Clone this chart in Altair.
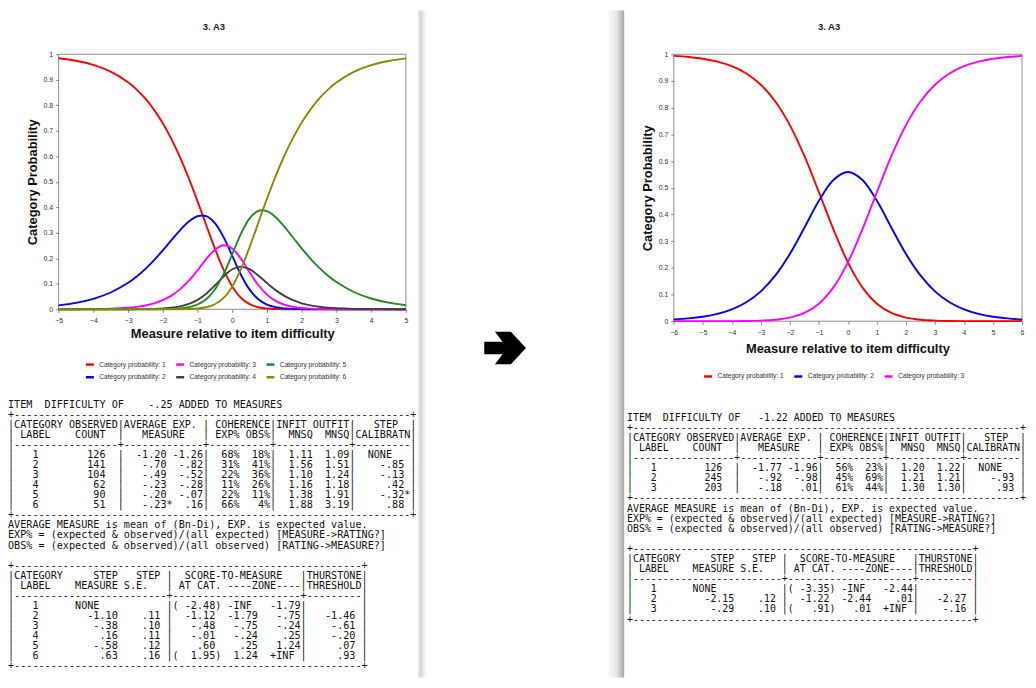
import altair as alt
import pandas as pd

NB = "\u00a0"

# ---------------- curve data ----------------
x_left = [-5, -4.5, -4, -3.5, -3, -2.75, -2.5, -2.25, -2, -1.75, -1.5, -1.25, -1, -0.75,
          -0.5, -0.25, 0, 0.25, 0.5, 0.75, 1, 1.25, 1.5, 1.75, 2, 2.25, 2.5, 2.75, 3,
          3.5, 4, 4.5, 5]
left_p1 = [.9844, .9744, .9581, .9319, .8902, .8614, .8257, .7821, .7296, .6673, .5950, .5132,
           .4238, .3303, .2382, .1553, .0896, .0452, .0200, .0080, .0029, .0010, .0003, .0001,
           0, 0, 0, 0, 0, 0, 0, 0, 0]
left_p2 = [.0155, .0253, .0411, .0658, .1037, .1288, .1586, .1929, .2310, .2713, .3106, .3440,
           .3648, .3650, .3380, .2830, .2096, .1356, .0772, .0395, .0186, .0082, .0035, .0014,
           .0006, .0002, .0001, 0, 0, 0, 0, 0, 0]
left_p3 = [.0001, .0003, .0009, .0023, .0059, .0094, .0148, .0232, .0356, .0537, .0789, .1123,
           .1528, .1964, .2335, .2510, .2386, .1984, .1450, .0952, .0575, .0327, .0178, .0094,
           .0048, .0024, .0012, .0006, .0003, .0001, 0, 0, 0]
left_p4 = [0, 0, 0, 0, .0002, .0004, .0008, .0016, .0032, .0061, .0116, .0211, .0369, .0609,
           .0931, .1284, .1568, .1673, .1571, .1324, .1027, .0751, .0525, .0355, .0235, .0152,
           .0097, .0062, .0039, .0015, .0006, .0002, .0001]
left_p5 = [0, 0, 0, 0, 0, 0, .0001, .0002, .0006, .0015, .0036, .0083, .0187, .0396, .0777,
           .1378, .2159, .2959, .3567, .3860, .3846, .3607, .3239, .2815, .2389, .1990, .1634,
           .1326, .1067, .0678, .0423, .0261, .0160]
left_p6 = [0, 0, 0, 0, 0, 0, 0, 0, 0, .0001, .0003, .0010, .0029, .0078, .0196, .0445, .0896,
           .1576, .2439, .3390, .4336, .5223, .6020, .6720, .7322, .7831, .8256, .8606, .8891,
           .9307, .9572, .9737, .9840]

x_right = [-6, -5.5, -5, -4.5, -4, -3.5, -3, -2.5, -2, -1.5, -1, -0.5, 0, 0.5, 1, 1.5, 2, 2.5,
           3, 3.5, 4, 4.5, 5, 5.5, 6]
right_p1 = [.9938, .9897, .9832, .9725, .9553, .9281, .8860, .8232, .7346, .6191, .4836, .3442,
            .2205, .1266, .0655, .0308, .0135, .0055, .0022, .0008, .0003, .0001, 0, 0, 0]
right_p2 = [.0062, .0103, .0168, .0274, .0444, .0710, .1118, .1713, .2520, .3501, .4509, .5292,
            .5589, .5292, .4509, .3501, .2520, .1713, .1118, .0710, .0444, .0274, .0168, .0103,
            .0062]
right_p3 = [0, 0, 0, .0001, .0003, .0008, .0022, .0055, .0135, .0308, .0655, .1266, .2205,
            .3442, .4836, .6191, .7346, .8232, .8860, .9281, .9553, .9725, .9832, .9897, .9938]

left_labels = ["Category probability: %d" % i for i in range(1, 7)]
right_labels = ["Category probability: %d" % i for i in range(1, 4)]
left_colors = ["#ff0000", "#0000ff", "#ff00ff", "#404040", "#1f8a1f", "#8a8a00"]
right_colors = ["#ff0000", "#0000ff", "#ff00ff"]

y_ticks = [0, 0.1, 0.2, 0.3, 0.4, 0.5, 0.6, 0.7, 0.8, 0.9, 1]
x_ticks_left = [-5, -4, -3, -2, -1, 0, 1, 2, 3, 4, 5]
x_ticks_right = [-6, -5, -4, -3, -2, -1, 0, 1, 2, 3, 4, 5, 6]

# ---------------- table data ----------------
L_cat = [1, 2, 3, 4, 5, 6]
L_count = [126, 141, 104, 62, 90, 51]
L_avg = ["-1.20", "-.70", "-.49", "-.23", "-.20", "-.23"]
L_avgflag = [" ", " ", " ", " ", " ", "*"]
L_exp = ["-1.26", "-.82", "-.52", "-.28", "-.07", ".16"]
L_exppct = ["68%", "31%", "22%", "11%", "22%", "66%"]
L_obspct = ["18%", "41%", "36%", "26%", "11%", "4%"]
L_infit = ["1.11", "1.56", "1.10", "1.16", "1.38", "1.88"]
L_outfit = ["1.09", "1.51", "1.24", "1.18", "1.91", "3.19"]
L_step = ["NONE", "-.85", "-.13", ".42", "-.32", ".88"]
L_stepflag = [" ", " ", " ", " ", "*", " "]
L_stepm = ["NONE", "-1.10", "-.38", ".16", "-.58", ".63"]
L_se = ["", ".11", ".10", ".11", ".12", ".16"]
L_atcat = ["-2.48", "-1.12", "-.48", "-.01", ".60", "1.95"]
L_extreme = [True, False, False, False, False, True]
L_zlo = ["-INF", "-1.79", "-.75", "-.24", ".25", "1.24"]
L_zhi = ["-1.79", "-.75", "-.24", ".25", "1.24", "+INF"]
L_thur = ["", "-1.46", "-.61", "-.20", ".07", ".93"]

R_cat = [1, 2, 3]
R_count = [126, 245, 203]
R_avg = ["-1.77", "-.92", "-.18"]
R_avgflag = [" ", " ", " "]
R_exp = ["-1.96", "-.98", ".01"]
R_exppct = ["56%", "45%", "61%"]
R_obspct = ["23%", "69%", "44%"]
R_infit = ["1.20", "1.21", "1.30"]
R_outfit = ["1.22", "1.21", "1.30"]
R_step = ["NONE", "-.93", ".93"]
R_stepflag = [" ", " ", " "]
R_stepm = ["NONE", "-2.15", "-.29"]
R_se = ["", ".12", ".10"]
R_atcat = ["-3.35", "-1.22", ".91"]
R_extreme = [True, False, True]
R_zlo = ["-INF", "-2.44", ".01"]
R_zhi = ["-2.44", ".01", "+INF"]
R_thur = ["", "-2.27", "-.16"]

FOOT = ["AVERAGE MEASURE is mean of (Bn-Di), EXP. is expected value.",
        "EXP% = (expected & observed)/(all expected) [MEASURE->RATING?]",
        "OBS% = (expected & observed)/(all observed) [RATING->MEASURE?]"]


def build_block(item_line, cats, counts, avg, avgflag, exp, exppct, obspct, infit, outfit,
                step, stepflag, stepm, se, atcat, extreme, zlo, zhi, thur):
    top1 = "+" + "-" * 65 + "+"
    h1 = "|CATEGORY OBSERVED|AVERAGE EXP. | COHERENCE|INFIT OUTFIT|   STEP  |"
    h2 = "| LABEL    COUNT  |   MEASURE   | EXP% OBS%|  MNSQ  MNSQ|CALIBRATN|"
    sep1 = "|" + "-" * 17 + "+" + "-" * 13 + "+" + "-" * 10 + "+" + "-" * 12 + "+" + "-" * 9 + "|"
    rows1 = []
    for i in range(len(cats)):
        sa = f"{cats[i]:>4}{counts[i]:>11}  "
        sb = f"{avg[i]:>7}{avgflag[i]}{exp[i]:>5}"
        sc = f"{exppct[i]:>5}{obspct[i]:>5}"
        sd = f"{infit[i]:>6}{outfit[i]:>6}"
        se_ = "  NONE   " if step[i] == "NONE" else f"{step[i]:>8}{stepflag[i]}"
        rows1.append("|" + sa + "|" + sb + "|" + sc + "|" + sd + "|" + se_ + "|")
    top2 = "+" + "-" * 57 + "+"
    h3 = "|CATEGORY     STEP   STEP |  SCORE-TO-MEASURE   |THURSTONE|"
    h4 = "| LABEL    MEASURE S.E.   | AT CAT. ----ZONE----|THRESHOLD|"
    sep2 = "|" + "-" * 25 + "+" + "-" * 21 + "+" + "-" * 9 + "|"
    rows2 = []
    for i in range(len(cats)):
        if stepm[i] == "NONE":
            sa = f"{cats[i]:>4}" + "      NONE" + " " * 11
        else:
            sa = f"{cats[i]:>4}{stepm[i]:>13}{se[i]:>7} "
        at = ("(" + f"{atcat[i]:>6}" + ")") if extreme[i] else (" " + f"{atcat[i]:>6}" + " ")
        lo = " -INF " if zlo[i] == "-INF" else f"{zlo[i]:>6}"
        hi = "  +INF " if zhi[i] == "+INF" else f"{zhi[i]:>7}"
        th = " " * 9 if thur[i] == "" else f"{thur[i]:>8} "
        rows2.append("|" + sa + "|" + at + lo + hi + "|" + th + "|")
    lines = [item_line, top1, h1, h2, sep1] + rows1 + [top1] + FOOT + [""] + \
        [top2, h3, h4, sep2] + rows2 + [top2]
    return lines


left_lines = build_block(" ITEM  DIFFICULTY OF    -.25 ADDED TO MEASURES",
                         L_cat, L_count, L_avg, L_avgflag, L_exp, L_exppct, L_obspct, L_infit,
                         L_outfit, L_step, L_stepflag, L_stepm, L_se, L_atcat, L_extreme,
                         L_zlo, L_zhi, L_thur)
right_lines = build_block(" ITEM  DIFFICULTY OF   -1.22 ADDED TO MEASURES",
                          R_cat, R_count, R_avg, R_avgflag, R_exp, R_exppct, R_obspct, R_infit,
                          R_outfit, R_step, R_stepflag, R_stepm, R_se, R_atcat, R_extreme,
                          R_zlo, R_zhi, R_thur)

W, H = 1028, 672
SANS = "Liberation Sans"
MONO = "DejaVu Sans Mono"


def long_df(xs, series, labels):
    rows = []
    for s, lab in zip(series, labels):
        for xv, pv in zip(xs, s):
            rows.append({"x": xv, "p": pv, "cat": lab})
    return pd.DataFrame(rows)


def panel(df, xdom, xrng, yrng, xticks, labels, colors, legx, legy, xtitle_xy, ytitle_xy):
    xaxis = alt.Axis(orient="bottom", offset=yrng[0] - H, values=xticks, format="d",
                     grid=False, domain=False, ticks=True, tickSize=3, tickColor="#808080",
                     labelFont=SANS, labelFontSize=7, labelColor="#333333", labelPadding=4.2,
                     labelFlush=False, labelOverlap=False,
                     title="Measure relative to item difficulty", titleFont=SANS,
                     titleFontSize=13, titleFontWeight="bold", titleColor="#111111",
                     titleX=xtitle_xy[0], titleY=xtitle_xy[1], titleAlign="center",
                     titleBaseline="middle", titleAngle=0)
    yaxis = alt.Axis(orient="left", offset=-xrng[0], values=y_ticks, format="~g",
                     grid=False, domain=False, ticks=True, tickSize=3, tickColor="#808080",
                     labelFont=SANS, labelFontSize=7, labelColor="#333333", labelPadding=3,
                     labelFlush=False, labelOverlap=False,
                     title="Category Probability", titleFont=SANS, titleFontSize=13,
                     titleFontWeight="bold", titleColor="#111111",
                     titleX=ytitle_xy[0], titleY=ytitle_xy[1], titleAlign="center",
                     titleBaseline="middle", titleAngle=270)
    xs = alt.Scale(domain=xdom, range=xrng, nice=False, zero=False)
    ys = alt.Scale(domain=[0, 1], range=yrng, nice=False, zero=False)
    frame_df = pd.DataFrame({"x0": [xdom[0]], "x1": [xdom[1]], "y0": [0], "y1": [1]})
    frame = alt.Chart(frame_df).mark_rect(filled=False, stroke="#8c8c8c", strokeWidth=1).encode(
        x=alt.X("x0:Q", scale=xs, axis=xaxis), x2="x1:Q",
        y=alt.Y("y0:Q", scale=ys, axis=yaxis), y2="y1:Q")
    lines = alt.Chart(df).mark_line(strokeWidth=1.9, interpolate="catmull-rom").encode(
        x=alt.X("x:Q", scale=xs, axis=xaxis),
        y=alt.Y("p:Q", scale=ys, axis=yaxis),
        color=alt.Color("cat:N", scale=alt.Scale(domain=labels, range=colors),
                        legend=alt.Legend(orient="none", legendX=legx, legendY=legy, columns=3,
                                          symbolType="stroke", symbolSize=64,
                                          symbolStrokeWidth=2.5, labelFont=SANS,
                                          labelFontSize=6.7, labelColor="#333333",
                                          labelOffset=4, columnPadding=5, rowPadding=2,
                                          padding=0, title=None)),
        detail="cat:N")
    return alt.layer(frame, lines)


left_panel = panel(long_df(x_left, [left_p1, left_p2, left_p3, left_p4, left_p5, left_p6],
                           left_labels),
                   [-5, 5], [51, 401], [301, 44], x_ticks_left, left_labels, left_colors,
                   77, 351, (226, 24), (-26.5, 172.5))
right_panel = panel(long_df(x_right, [right_p1, right_p2, right_p3], right_labels),
                    [-6, 6], [671, 1022], [313, 44], x_ticks_right, right_labels, right_colors,
                    700, 363, (846, 27.3), (-26.5, 178.5))


def text_block(lines, x0, y_first, y_last, size):
    df = pd.DataFrame({"i": list(range(len(lines))),
                       "t": [s.replace(" ", NB) for s in lines]})
    return alt.Chart(df).mark_text(font=MONO, fontSize=size, align="left", baseline="middle",
                                   color="#111111").encode(
        x=alt.value(x0),
        y=alt.Y("i:Q", scale=alt.Scale(domain=[0, len(lines) - 1], range=[y_first, y_last],
                                       nice=False, zero=False), axis=None),
        text="t:N")


left_text = text_block(left_lines, 0, 397, 661, 10.22)
right_text = text_block(right_lines, 623.9, 410.3, 613.7, 9.98)

one = pd.DataFrame({"a": [0]})

shadow_right = alt.Chart(one).mark_rect(
    fill=alt.Gradient(gradient="linear", x1=0, x2=1, y1=0, y2=0,
                      stops=[alt.GradientStop(color="#ffffff", offset=0),
                             alt.GradientStop(color="#e4e4e4", offset=0.6),
                             alt.GradientStop(color="#a6a6a6", offset=1)])).encode(
    x=alt.value(603), x2=alt.value(621), y=alt.value(0), y2=alt.value(H))
edge_left = alt.Chart(one).mark_rect(
    fill=alt.Gradient(gradient="linear", x1=0, x2=1, y1=0, y2=0,
                      stops=[alt.GradientStop(color="#ffffff", offset=0),
                             alt.GradientStop(color="#d6d6d6", offset=0.35),
                             alt.GradientStop(color="#ffffff", offset=1)])).encode(
    x=alt.value(412), x2=alt.value(422), y=alt.value(0), y2=alt.value(H))

ARROW = "M-1,-0.3L-0.12,-0.3L-0.49,-0.78L0.28,-0.78L1,0L0.28,0.78L-0.49,0.78L-0.12,0.3L-1,0.3Z"
arrow = alt.Chart(one).mark_point(shape=ARROW, size=1764, filled=True, color="#000000",
                                  opacity=1, strokeWidth=0).encode(
    x=alt.value(501), y=alt.value(340))

title_df = pd.DataFrame({"t": ["3. A3"]})
title_left = alt.Chart(title_df).mark_text(font=SANS, fontSize=9.5, fontWeight="bold",
                                           color="#222222", align="center",
                                           baseline="middle").encode(
    x=alt.value(207.5), y=alt.value(17), text="t:N")
title_right = alt.Chart(title_df).mark_text(font=SANS, fontSize=9.5, fontWeight="bold",
                                            color="#222222", align="center",
                                            baseline="middle").encode(
    x=alt.value(827.5), y=alt.value(17), text="t:N")

chart = alt.layer(
    shadow_right, edge_left, left_text, right_text, left_panel, right_panel,
    arrow, title_left, title_right
).resolve_scale(
    x="independent", y="independent", color="independent"
).properties(
    width=W, height=H, padding=0, autosize=alt.AutoSizeParams(type="none"),
    background="white"
).configure_view(stroke=None)

chart.save("out.html", embed_options={"renderer": "svg", "actions": False})
